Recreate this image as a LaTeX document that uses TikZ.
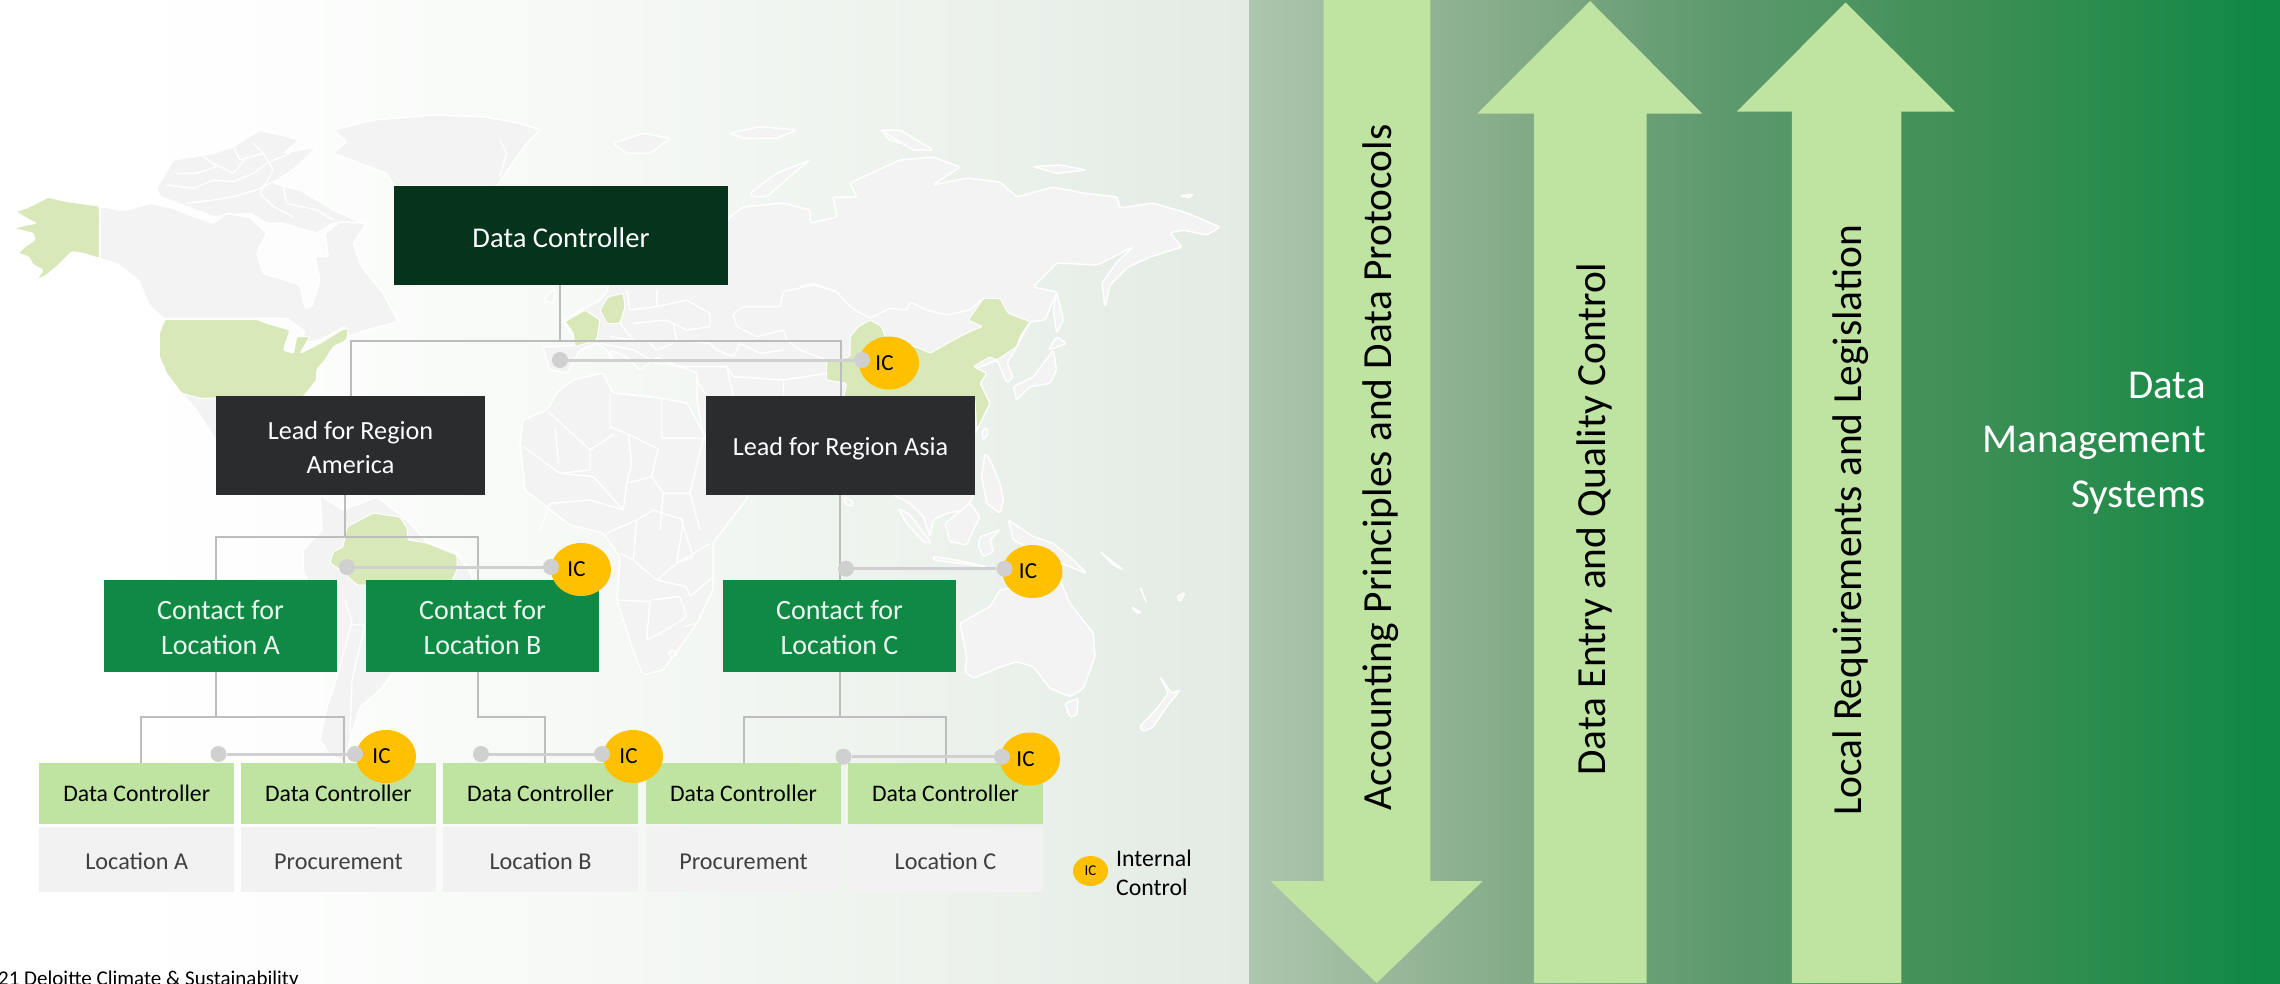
\documentclass[tikz,border=0pt]{standalone}
\usepackage{fontspec}
\setmainfont{Carlito}
\usetikzlibrary{shapes.geometric}
\newcommand{\dn}[1]{\rule{0pt}{\dimexpr.72em+#1\relax}}
\definecolor{bgA}{HTML}{FFFFFF}\definecolor{bgA2}{HTML}{FCFDFC}\definecolor{bgB}{HTML}{F5F8F5}\definecolor{bgB2}{HTML}{EDF2ED}\definecolor{bgC}{HTML}{E3EBE4}
\definecolor{pA}{HTML}{ADC6AF}\definecolor{pB}{HTML}{86AC89}\definecolor{pC}{HTML}{5F9A6E}\definecolor{pD}{HTML}{3F8F56}\definecolor{pE}{HTML}{108944}
\definecolor{dcgreen}{HTML}{06331B}\definecolor{leadgray}{HTML}{2B2C2E}\definecolor{contactgreen}{HTML}{108944}
\definecolor{lightgreen}{HTML}{BFE3A0}\definecolor{cellgray}{HTML}{F2F2F3}\definecolor{mapgray}{HTML}{F3F3F4}\definecolor{mapgreen}{HTML}{D8E8B8}
\definecolor{icyellow}{HTML}{FFC000}\definecolor{linegray}{HTML}{BDBDBD}\definecolor{dotgray}{HTML}{D0D0D0}
\pgfdeclarehorizontalshading{leftbg}{100bp}{color(0bp)=(bgA); color(25bp)=(bgA); color(30bp)=(bgA); color(37bp)=(bgA2); color(50bp)=(bgB); color(62bp)=(bgB2); color(75bp)=(bgC); color(100bp)=(bgC)}
\pgfdeclarehorizontalshading{panelbg}{100bp}{color(0bp)=(pA); color(25bp)=(pA); color(37.4bp)=(pB); color(47.3bp)=(pC); color(59.7bp)=(pD); color(74bp)=(pE); color(100bp)=(pE)}
\tikzset{
 z4/.style={shift={(0,110)},x=.33333pt,y=-.33333pt},
 z5/.style={shift={(500,110)},x=.33333pt,y=-.33333pt},
 z6/.style={shift={(800,110)},x=.33333pt,y=-.33333pt},
 z7/.style={shift={(280,500)},x=.33333pt,y=-.33333pt},
 z8/.style={shift={(800,480)},x=.33333pt,y=-.33333pt},
 land/.style={fill=mapgray,draw=white,line width=1.5pt,line join=round,rounded corners=1.5pt},
 gland/.style={fill=mapgreen,draw=white,line width=1pt,line join=round,rounded corners=1.5pt},
 bord/.style={draw=white,line width=1.4pt,line join=round,rounded corners=1pt},
 box/.style={rectangle,inner sep=0pt,align=center},
 dcbox/.style={box,fill=dcgreen,text=white,minimum width=334pt,minimum height=99pt,font=\fontsize{28.6}{34}\selectfont},
 leadbox/.style={box,fill=leadgray,text=white,minimum width=269pt,minimum height=99pt,font=\fontsize{26.2}{33.5}\selectfont},
 contactbox/.style={box,fill=contactgreen,text=white!92!contactgreen,minimum width=233pt,minimum height=92pt,font=\fontsize{28}{35}\selectfont},
 dcsmall/.style={box,fill=lightgreen,text=black,minimum width=195pt,minimum height=61pt,font=\fontsize{23.7}{28}\selectfont},
 cell/.style={box,fill=cellgray,text=black!75,minimum width=195pt,minimum height=65pt,font=\fontsize{24.2}{28}\selectfont},
 conn/.style={draw=linegray,line width=2pt,line join=miter},
 icline/.style={draw=dotgray,line width=3pt},
 dotnode/.style={circle,fill=dotgray,inner sep=0pt,minimum size=16pt},
 icnode/.style={ellipse,fill=icyellow,inner sep=0pt,minimum width=60pt,minimum height=53pt,font=\fontsize{23}{28}\selectfont,text=black},
 icsmall/.style={ellipse,fill=icyellow,inner sep=0pt,minimum width=35pt,minimum height=30pt,font=\fontsize{15}{18}\selectfont,text=black},
 arrowfill/.style={fill=lightgreen},
 arrowtext/.style={rotate=90,text=black,inner sep=0pt,font=\fontsize{41.4}{50}\selectfont},
}
\begin{document}
\begin{tikzpicture}[x=1pt,y=-1pt]
\useasboundingbox (0,0) rectangle (2280,983);
% backgrounds
\path[shading=leftbg] (0,0) rectangle (1250,983);
\path[shading=panelbg] (1249,0) rectangle (2280,983);
% ---------- map ----------
\begin{scope}[z4]
\path[land] (1000,60)--(1120,30)--(1300,15)--(1450,20)--(1560,40)--(1620,60)--(1580,100)--(1530,170)--(1490,228)--(1182,228)--(1160,190)--(1080,160)--(1000,130)--(1040,95)--cycle;
\path[bord] (1500,90)--(1520,130)--(1500,200);
% Arctic
\path[land] (470,235)--(520,150)--(640,130)--(700,110)--(780,60)--(900,90)--(850,130)--(950,110)--(890,170)--(820,220)--(900,240)--(1000,300)--(1090,340)--(1000,340)--(950,370)--(850,340)--(800,340)--(750,310)--(640,320)--(560,290)--(480,260)--cycle;
\path[bord] (500,225)--(580,235)--(640,210)--(700,215)--(760,190)--(800,160)--(870,130);
\path[bord] (560,280)--(640,270)--(700,260)--(770,240)--(830,210);
\path[bord] (760,100)--(790,130)--(820,180)--(780,250)--(820,290)--(880,320);
\path[bord] (640,160)--(700,190)--(740,140);
\path[bord] (850,230)--(860,280)--(950,300)--(1000,330);
\path[bord] (600,130)--(650,170)--(590,190)--(530,190);
\path[bord] (700,110)--(720,150)--(790,130);
% Canada
\path[land] (302,290)--(370,302)--(450,280)--(520,295)--(570,315)--(640,340)--(680,310)--(750,322)--(800,370)--(770,430)--(790,490)--(900,525)--(915,595)--(935,590)--(960,510)--(945,440)--(985,440)--(975,370)--(1020,335)--(1100,340)--(1060,400)--(1085,470)--(1150,550)--(1195,635)--(1100,660)--(1045,680)--(1035,650)--(960,690)--(900,700)--(915,665)--(860,625)--(770,625)--(490,625)--(450,590)--(415,510)--(350,460)--(300,447)--cycle;
% Mexico
\path[land] (548,852)--(910,860)--(950,950)--(650,1000)--(640,980)--(590,900)--cycle;
% Alaska
\path[gland] (48,305)--(90,290)--(145,262)--(200,275)--(298,288)--(298,445)--(250,430)--(215,425)--(195,445)--(170,470)--(140,495)--(110,510)--(130,480)--(100,465)--(85,440)--(55,430)--(75,410)--(105,390)--(100,370)--(40,355)--(80,345)--(110,340)--(80,325)--cycle;
% USA
\path[gland] (495,628)--(770,628)--(800,640)--(870,660)--(850,720)--(880,730)--(890,680)--(930,680)--(900,730)--(960,700)--(1025,660)--(1045,655)--(1040,690)--(1000,710)--(975,750)--(950,780)--(950,810)--(910,860)--(600,865)--(545,850)--(500,790)--(478,740)--(478,670)--cycle;
\end{scope}
% South America
\path[land] (320,495)--(343,510)--(377,497)--(407,520)--(427,542)--(457,553)--(472,575)--(470,600)--(440,650)--(393,672)--(380,690)--(360,707)--(350,740)--(345,762)--(330,755)--(320,740)--(327,707)--(337,677)--(325,620)--(303,570)--(303,550)--(322,530)--cycle;
\path[gland] (347,527)--(373,513)--(400,517)--(407,528)--(408,540)--(427,543)--(457,555)--(457,570)--(450,585)--(357,585)--(343,572)--(330,563)--(333,552)--(343,547)--cycle;
\path[bord] (337,677)--(352,622)--(345,600);
\path[bord] (350,625)--(365,625)--(352,680)--(350,735);
% Africa
\path[land] (557,393)--(572,380)--(603,373)--(613,393)--(660,398)--(687,403)--(703,433)--(715,470)--(743,490)--(748,497)--(713,543)--(713,590)--(697,623)--(680,647)--(663,670)--(643,675)--(633,650)--(617,600)--(620,557)--(603,533)--(570,525)--(547,507)--(525,490)--(520,443)--(523,420)--(547,410)--cycle;
\begin{scope}[z5]
\path[bord] (330,850)--(330,950)--(390,975)--(470,1015);
\path[bord] (485,865)--(485,985)--(610,985);
\path[bord] (145,905)--(270,1020)--(345,970);
\path[bord] (270,1020)--(270,1080)--(180,1090)--(70,1010);
\path[bord] (385,975)--(395,1060)--(380,1120)--(455,1100)--(475,1015);
\path[bord] (455,1100)--(490,1150)--(570,1150)--(610,985);
\path[bord] (380,1120)--(370,1200)--(280,1100)--(180,1090);
\path[bord] (165,950)--(175,1060);
\path[bord] (120,1260)--(150,1180)--(270,1170)--(370,1200);
\path[bord] (490,1150)--(480,1260);
\path[bord] (570,1150)--(600,1260);
\end{scope}
\begin{scope}[z7]
\path[bord] (1010,300)--(1110,305)--(1100,420);
\path[bord] (1110,300)--(1200,290)--(1220,350)--(1190,370)--(1140,400)--(1100,420);
\path[bord] (1130,240)--(1220,260)--(1230,290)--(1300,230);
\path[bord] (1060,180)--(1130,240);
\path[bord] (1130,240)--(1190,190)--(1290,130);
\path[bord] (1070,60)--(1060,180)--(1020,160);
\path[bord] (1210,60)--(1190,190)--(1240,170)--(1200,50);
\path[bord] (1210,380)--(1250,370);
\path[bord] (1165,460)--(1180,450)--(1190,462)--(1175,472)--cycle;
\path[bord] (980,100)--(1070,60)--(1120,30)--(1210,60);
\end{scope}
% Eurasia
\path[land] (608,285)--(608,290)--(600,300)--(582,310)--(563,320)--(575,340)--(580,345)--(543,347)--(550,370)--(567,373)--(580,350)--(597,343)--(607,350)--(613,363)--(610,350)--(627,357)--(640,370)--(657,357)--(670,363)--(697,373)--(697,400)--(703,433)--(720,450)--(960,450)--(977,430)--(990,403)--(980,383)--(987,373)--(973,368)--(980,367)--(997,360)--(1007,383)--(1013,377)--(1007,363)--(1017,347)--(1020,340)--(1030,322)--(1045,320)--(1057,292)--(1033,287)--(1057,263)--(1097,265)--(1133,247)--(1117,262)--(1102,283)--(1105,307)--(1110,285)--(1128,267)--(1150,257)--(1182,247)--(1170,233)--(1183,230)--(1207,235)--(1220,227)--(1187,213)--(1153,203)--(1120,208)--(1117,197)--(1083,193)--(1053,187)--(1017,197)--(1000,182)--(967,178)--(933,185)--(960,167)--(933,157)--(900,160)--(850,183)--(857,197)--(833,197)--(837,217)--(810,223)--(810,210)--(783,203)--(743,207)--(730,217)--(720,230)--(620,270)--cycle;
\begin{scope}[z5]
% Europe / Middle East borders
\path[bord] (1010,545)--(940,525)--(850,545)--(840,590)--(730,590)--(700,610)--(710,650)--(770,680)--(850,660)--(860,690)--(900,720)--(980,750)--(1030,760);
\path[bord] (470,540)--(470,590)--(560,570)--(630,610)--(630,650)--(560,660)--(500,630)--(400,640);
\path[bord] (380,540)--(390,600)--(470,590);
\path[bord] (370,600)--(360,640)--(400,690)--(330,680);
\path[bord] (520,640)--(530,690)--(630,700)--(650,720)--(700,740)--(720,700)--(780,730)--(850,720);
\path[bord] (440,690)--(470,720)--(520,700);
\path[bord] (300,700)--(400,720)--(470,760)--(560,770)--(680,770)--(700,800)--(850,810)--(980,790);
\path[bord] (680,770)--(700,860);
\path[bord] (850,810)--(850,860);
\path[bord] (590,810)--(620,860);
\path[land] (130,570)--(165,535)--(160,580)--cycle;
\path[land] (340,100)--(430,70)--(510,85)--(450,130)--(380,130)--cycle;
\path[land] (690,70)--(780,50)--(890,60)--(830,85)--(730,85)--cycle;
\path[land] (750,250)--(830,190)--(930,150)--(880,190)--(800,260)--(760,260)--cycle;
\path[land] (1150,60)--(1215,80)--(1200,100)--(1160,85)--cycle;
% France and Germany
\path[gland] (195,635)--(255,600)--(300,630)--(290,690)--(225,710)--(220,670)--cycle;
\path[gland] (300,600)--(325,560)--(370,550)--(375,590)--(360,640)--(320,640)--cycle;
\end{scope}
\begin{scope}[z6]
% Russia / Mongolia border
\path[bord] (0,530)--(40,520)--(110,545)--(150,590)--(210,625)--(270,595)--(320,600)--(330,575)--(380,600)--(440,615)--(510,600)--(550,565);
% China
\path[gland] (210,630)--(245,650)--(255,680)--(360,715)--(390,730)--(460,690)--(520,660)--(548,650)--(505,630)--(550,565)--(600,565)--(625,610)--(690,635)--(660,680)--(650,710)--(590,750)--(570,740)--(520,770)--(560,790)--(540,820)--(570,880)--(530,960)--(525,870)--(130,870)--(140,820)--(80,810)--(80,755)--(150,740)--(150,680)--(175,650)--cycle;
% Japan etc.
\path[land] (650,870)--(640,830)--(700,800)--(760,720)--(770,780)--(750,820)--(690,830)--cycle;
\path[land] (745,720)--(800,700)--(770,680)--cycle;
\path[land] (770,545)--(790,630)--(770,670)--(760,600)--cycle;
\path[land] (555,950)--(565,970)--(550,990)--(545,970)--cycle;
\path[land] (555,1030)--(570,1050)--(600,1120)--(610,1170)--(600,1210)--(560,1180)--(545,1100)--cycle;
\path[land] (130,1160)--(160,1175)--(155,1190)--(135,1180)--cycle;
\path[land] (700,170)--(780,165)--(860,180)--(770,190)--cycle;
\path[land] (1140,258)--(1180,252)--(1170,262)--cycle;
\path[land] (240,60)--(300,60)--(400,120)--(340,120)--cycle;
\end{scope}
\begin{scope}[z8]
% South-East Asia
\path[land] (280,44)--(520,44)--(500,90)--(440,100)--(400,120)--(390,170)--(370,110)--(330,70)--cycle;
\path[land] (295,85)--(330,105)--(395,190)--(370,185)--(320,130)--cycle;
\path[land] (435,130)--(510,70)--(540,110)--(520,150)--(500,195)--(450,185)--cycle;
\path[land] (540,170)--(600,150)--(570,180)--(580,215)--(550,230)--(535,200)--cycle;
\path[land] (400,230)--(470,240)--(560,260)--(480,250)--(400,240)--cycle;
\path[land] (625,120)--(700,170)--(760,190)--(820,240)--(860,280)--(810,260)--(760,240)--(700,210)--(640,180)--cycle;
\path[land] (900,215)--(970,270)--(940,255)--cycle;
\path[land] (1020,320)--(1040,370)--(1030,345)--cycle;
\path[land] (995,380)--(1025,400)--(1005,395)--cycle;
\path[land] (1130,350)--(1155,338)--(1140,365)--cycle;
% Australia
\path[land] (480,430)--(570,380)--(600,330)--(780,300)--(810,370)--(880,460)--(885,530)--(850,625)--(810,650)--(750,625)--(700,560)--(650,545)--(590,565)--(520,595)--(495,575)--(500,530)--cycle;
\path[land] (795,670)--(835,655)--(830,705)--(810,712)--cycle;
% New Zealand
\path[land] (1080,590)--(1115,640)--(1140,630)--(1100,680)--(1060,740)--(1030,755)--(1020,740)--(1075,680)--(1105,640)--cycle;
\end{scope}
% ---------- right panel arrows ----------
\path[arrowfill] (1323.6,0)--(1430.4,0)--(1430.4,881)--(1482.7,881)--(1376.6,983)--(1270.5,881)--(1323.6,881)--cycle;
\path[arrowfill] (1590,1)--(1702,113.5)--(1646.6,113.5)--(1646.6,983)--(1533.8,983)--(1533.8,113.5)--(1477.4,113.5)--cycle;
\path[arrowfill] (1845.6,2.5)--(1955,111.6)--(1901.3,111.6)--(1901.3,983)--(1791.8,983)--(1791.8,111.6)--(1736.8,111.6)--cycle;
\node[arrowtext] (t1) at (1381,467.5) {Accounting Principles and Data Protocols};
\node[arrowtext] (t2) at (1594.5,519) {Data Entry and Quality Control};
\node[arrowtext] (t3) at (1851,520.5) {Local Requirements and Legislation};
\node[anchor=east,align=right,text=white,inner sep=0pt,font=\fontsize{41}{54.5}\selectfont] (dms) at (2206,443) {Data\\Management\\Systems};
% ---------- nodes ----------
\node[dcbox] (dc) at (561,235.5) {\dn{3pt}Data Controller};
\node[leadbox] (lam) at (350.5,445.5) {\dn{3pt}Lead for Region\\America};
\node[leadbox] (las) at (840.5,445.5) {\dn{6pt}Lead for Region Asia};
\node[contactbox] (ca) at (220.5,626) {\dn{3pt}Contact for\\Location A};
\node[contactbox] (cb) at (482.5,626) {\dn{3pt}Contact for\\Location B};
\node[contactbox] (cc) at (839.5,626) {\dn{3pt}Contact for\\Location C};
\foreach \n/\x/\lab in {1/136.7/Location A,2/338.4/Procurement,3/540.5/Location B,4/743.5/Procurement,5/945.5/Location C}{
 \node[dcsmall] (g\n) at (\x,793.5) {Data Controller};
 \node[cell] (w\n) at (\x,859.5) {\dn{3pt}\lab};
}
% ---------- connectors ----------
\coordinate (dcJ) at (560,341);
\draw[conn] (dc.south -| dcJ) -- (dcJ);
\draw[conn] (lam.north) |- (dcJ) -| (las.north);
\coordinate (lamJ) at (344.5,537);
\draw[conn] (lam.south -| lamJ) -- (lamJ);
\coordinate (caT) at (216,580);\coordinate (cbT) at (478,580);
\draw[conn] (caT) |- (lamJ) -| (cbT);
\draw[conn] (las.south -| cc.north) -- (cc.north);
\coordinate (caJ) at (216,717);
\draw[conn] (ca.south -| caJ) -- (caJ);
\coordinate (g1T) at (141,763);\coordinate (g2T) at (343.6,763);
\draw[conn] (g1T) |- (caJ) -| (g2T);
\coordinate (cbJ) at (478,717);\coordinate (g3T) at (545,763);
\draw[conn] (cb.south -| cbJ) -- (cbJ) -| (g3T);
\coordinate (ccJ) at (839.5,717);
\draw[conn] (cc.south) -- (ccJ);
\draw[conn] (g4.north) |- (ccJ) -| (g5.north);
% ---------- internal control markers ----------
\foreach \n/\cx/\cy/\ax/\bx/\ly in {a/889/363/560/862/360,b/581/569.5/347/551/567,c/1032.5/571.5/846/1004.5/568.7,d/386/756.5/218.5/355/754,e/633/756.5/481/602/754,f/1030/759/843.5/1002/756.7}{
 \node[icnode] (ic\n) at (\cx,\cy) {IC\rule{9pt}{0pt}};
 \node[dotnode] (s\n) at (\ax,\ly) {};
 \node[dotnode] (e\n) at (\bx,\ly) {};
 \draw[icline] (s\n) -- (e\n);
}
% legend
\node[icsmall] (lg) at (1090.5,871) {IC};
\node[anchor=west,align=left,inner sep=0pt,text=black,font=\fontsize{23.8}{29}\selectfont] (lgt) at (1116,873) {Internal\\Control};
% footer
\node[anchor=base west,inner sep=0pt,text=black,font=\fontsize{21}{24}\selectfont] (foot) at (-2,985) {21 Deloitte Climate \& Sustainability};
\end{tikzpicture}
\end{document}
